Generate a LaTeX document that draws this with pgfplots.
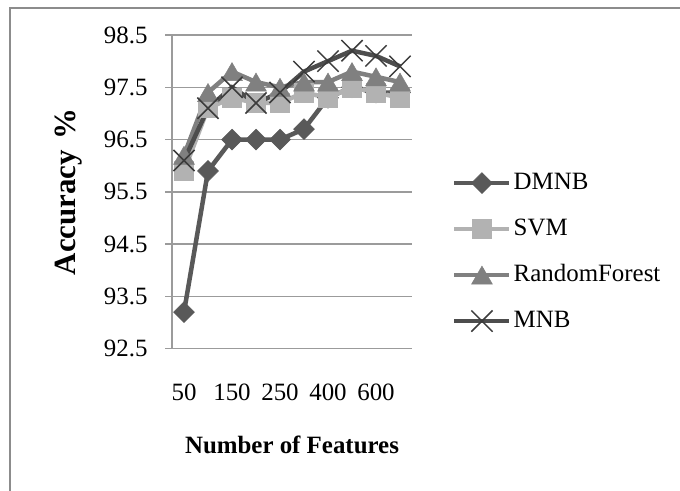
\documentclass[border=0pt]{standalone}
\usepackage{fontspec}
\setmainfont{Liberation Serif}
\usepackage{pgfplots}
\pgfplotsset{compat=1.18}

\definecolor{dmnbc}{RGB}{89,89,89}
\definecolor{svmc}{RGB}{178,178,178}
\definecolor{rfc}{RGB}{128,128,128}
\definecolor{mnbc}{RGB}{77,77,77}
\definecolor{mnbx}{RGB}{60,60,60}
\definecolor{gridc}{RGB}{155,155,155}
\definecolor{framec}{RGB}{140,140,140}

\begin{document}
\begin{tikzpicture}
\useasboundingbox (0,0) rectangle (680bp,491bp);
% chart area border (Excel style, runs off the right and bottom)
\draw[framec, line width=1.5bp] (10bp,-10bp) -- (10bp,483bp) -- (700bp,483bp);
\begin{axis}[
  at={(172bp,142.3bp)}, anchor=south west,
  scale only axis, width=240bp, height=313.7bp,
  clip=false,
  xmin=-0.5, xmax=9.5, ymin=92.5, ymax=98.5,
  % categories: 50,100,150,200,250,300,400,500,600,700 (every other one labelled)
  xtick={0,2,4,6,8}, xticklabels={50,150,250,400,600},
  ytick={92.5,93.5,94.5,95.5,96.5,97.5,98.5},
  axis x line*=bottom, axis y line*=left,
  axis line style={gridc, line width=1.5bp, -},
  ymajorgrids, grid style={gridc, line width=1.5bp},
  xtick style={draw=none},
  ytick style={gridc, line width=1.5bp},
  tick align=outside, major tick length=7bp,
  tick label style={font=\fontsize{25}{30}\selectfont},
  /pgf/number format/assume math mode=true,
  xticklabel style={yshift=-25bp},
  yticklabel style={xshift=-14bp, /pgf/number format/.cd, fixed, fixed zerofill, precision=1},
  xlabel={Number of Features},
  xlabel style={at={(axis description cs:0.5,-0.307)}, anchor=center,
    font=\fontsize{25}{30}\selectfont\bfseries},
  ylabel={Accuracy\hspace{0.35em}\%},
  ylabel style={at={(axis description cs:-0.433,0.5)}, anchor=center,
    font=\fontsize{31}{36}\selectfont\bfseries},
  legend style={draw=none, fill=none, at={(1.1667,0.308)}, anchor=west,
    inner sep=0pt, row sep=20bp,
    nodes={inner sep=2bp, text height=17bp, text depth=5bp,
      font=\fontsize{25}{30}\selectfont}},
  legend cell align=left,
  legend image code/.code={\draw[mark repeat=2,mark phase=2,#1]
    plot coordinates {(0bp,0bp) (27.5bp,0bp) (55bp,0bp)};},
]
\addplot[color=dmnbc, line width=4.5bp, mark=square*, mark size=7.4bp,
  mark options={rotate=45, solid, line width=0.5bp}]
  coordinates {(0,93.2) (1,95.9) (2,96.5) (3,96.5) (4,96.5) (5,96.7) (6,97.3) (7,97.5) (8,97.4) (9,97.4)};
\addlegendentry{DMNB}
\addplot[color=svmc, line width=4.5bp, mark=square*, mark size=9.5bp,
  mark options={solid, line width=0.5bp}]
  coordinates {(0,95.9) (1,97.1) (2,97.3) (3,97.2) (4,97.2) (5,97.4) (6,97.3) (7,97.5) (8,97.4) (9,97.3)};
\addlegendentry{SVM}
\addplot[color=rfc, line width=4.5bp, mark=triangle*, mark size=12bp,
  mark options={solid, line width=0.5bp, yshift=-3bp}]
  coordinates {(0,96.2) (1,97.4) (2,97.8) (3,97.6) (4,97.5) (5,97.6) (6,97.6) (7,97.8) (8,97.7) (9,97.6)};
\addlegendentry{RandomForest}
\addplot[color=mnbc, line width=4.5bp, mark=x, mark size=15bp,
  mark options={solid, draw=mnbx, line width=1.5bp}]
  coordinates {(0,96.1) (1,97.1) (2,97.5) (3,97.2) (4,97.4) (5,97.8) (6,98.0) (7,98.2) (8,98.1) (9,97.9)};
\addlegendentry{MNB}
\end{axis}
\end{tikzpicture}
\end{document}
